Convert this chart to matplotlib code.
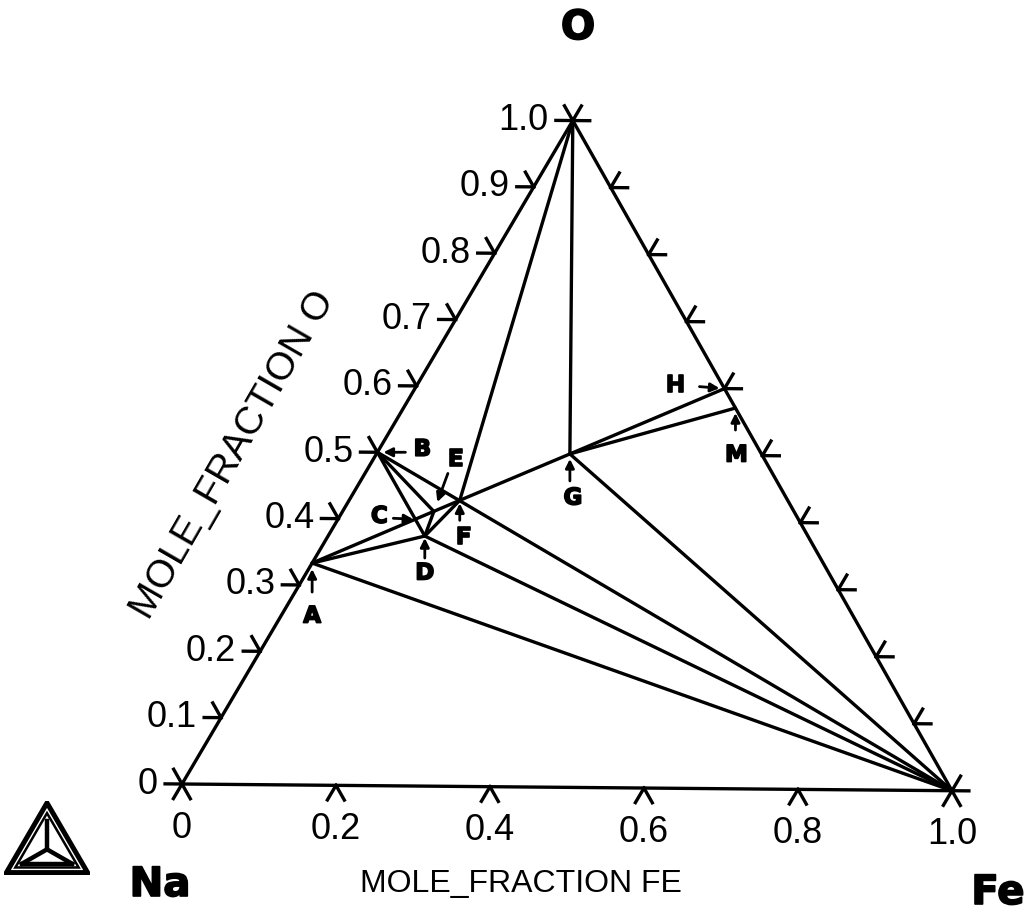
"""Na-Fe-O isothermal section redrawn as a ternary plot."""

import numpy as np
import matplotlib
matplotlib.use("Agg")  # Non-interactive backend
import matplotlib.pyplot as plt
import matplotlib.patheffects as pe
from matplotlib.patches import Polygon

# phase points: mole fraction Fe, mole fraction O
point_names = ["Na", "Fe", "O", "A", "B", "C", "D", "E", "F", "G", "H", "M"]
point_fe = [0.0, 1.0, 0.0, 0.0, 0.0, 0.100, 0.125, 0.118, 0.143, 0.25, 0.40, 0.429]
point_o = [0.0, 0.0, 1.0, 0.333, 0.5, 0.400, 0.375, 0.412, 0.429, 0.50, 0.60, 0.571]

# two-phase tie lines between the points above
tie_lines = [
    ("A", "F"), ("A", "D"), ("A", "Fe"),
    ("B", "D"), ("B", "E"), ("E", "D"), ("D", "F"),
    ("B", "Fe"), ("D", "Fe"),
    ("F", "O"), ("F", "G"), ("G", "O"),
    ("G", "H"), ("G", "M"), ("G", "Fe"),
]

side_ticks = [0.0, 0.1, 0.2, 0.3, 0.4, 0.5, 0.6, 0.7, 0.8, 0.9, 1.0]
side_labels = ["0", "0.1", "0.2", "0.3", "0.4", "0.5", "0.6", "0.7", "0.8", "0.9", "1.0"]
bottom_ticks = [0.0, 0.2, 0.4, 0.6, 0.8, 1.0]
bottom_labels = ["0", "0.2", "0.4", "0.6", "0.8", "1.0"]

# label layout for the lettered points: (arrow tail, tip gap in px, label offset) in pixels
letter_layout = {
    "A": ((0, -29), 6, (0, -53)),
    "B": ((28, 0), 6, (45, 3)),
    "C": ((-22, 1), 2, (-36, 3)),
    "D": ((0, -22), 2, (0, -37)),
    "E": ((14, 38), 10, (22, 52)),
    "F": ((0, -20), 3, (4, -37)),
    "G": ((0, -27), 5, (3, -44)),
    "H": ((-25, 2), 5, (-49, 3)),
    "M": ((0, -22), 5, (1, -47)),
}

TILT = np.deg2rad(-0.5)
LW = 2.4
TICK = 0.022
SQ3 = np.sqrt(3) / 2


def rot(x, y):
    return (x * np.cos(TILT) - y * np.sin(TILT), x * np.sin(TILT) + y * np.cos(TILT))


def cart(fe, o):
    """Ternary (x_Fe, x_O) -> plot coordinates."""
    return rot(fe + o / 2, o * SQ3)


pts = {n: cart(f, o) for n, f, o in zip(point_names, point_fe, point_o)}

W, H = 1028, 918
fig = plt.figure(figsize=(W / 100, H / 100), dpi=100)
ax = fig.add_axes([0, 0, 1, 1])
unit = 770.0
na_px, na_py = 182, 784
ax.set_xlim(-na_px / unit, (W - na_px) / unit)
ax.set_ylim(-(H - na_py) / unit, na_py / unit)
ax.axis("off")

# triangle edges
tri = [pts["Na"], pts["Fe"], pts["O"], pts["Na"]]
ax.plot([p[0] for p in tri], [p[1] for p in tri], color="black", lw=LW, solid_joinstyle="miter")

for a, b in tie_lines:
    ax.plot([pts[a][0], pts[b][0]], [pts[a][1], pts[b][1]], color="black", lw=LW,
            solid_capstyle="round")


def tick(p, dirs):
    for dx, dy in dirs:
        ddx, ddy = rot(dx, dy)
        ax.plot([p[0], p[0] + TICK * ddx], [p[1], p[1] + TICK * ddy], color="black", lw=LW)


txt = dict(family="Liberation Sans", color="black")
for v, lab in zip(side_ticks, side_labels):
    p = cart(0, v)
    tick(p, [(-1, 0), (-0.5, SQ3)])
    ax.annotate(lab, xy=p, xytext=(-24, 0), textcoords="offset pixels",
                ha="right", va="center", fontsize=26, **txt)
    tick(cart(1 - v, v), [(1, 0), (0.5, SQ3)])

for v, lab in zip(bottom_ticks, bottom_labels):
    p = cart(v, 0)
    tick(p, [(-0.5, -SQ3), (0.5, -SQ3)])
    ax.annotate(lab, xy=p, xytext=(0, -44), textcoords="offset pixels",
                ha="center", va="center", fontsize=26, **txt)

# lettered points with arrows (stroke makes the bold face look heavier)
heavy = [pe.withStroke(linewidth=1.2, foreground="black")]
bold = dict(family="DejaVu Sans", fontweight="bold", color="black", path_effects=heavy)
for name, (tail, gap, lab_off) in letter_layout.items():
    p = pts[name]
    ax.annotate("", xy=p, xytext=tail, textcoords="offset pixels",
                arrowprops=dict(arrowstyle="-|>", color="black", lw=2,
                                mutation_scale=13, shrinkA=0, shrinkB=gap * 0.72))
    ax.annotate(name, xy=p, xytext=lab_off, textcoords="offset pixels",
                ha="center", va="center", fontsize=16.5, **bold)

# axis titles and corner names
fig.text(521 / W, 1 - 884 / H, "MOLE_FRACTION FE", ha="center", va="center", fontsize=23, **txt)
fig.text(233 / W, 1 - 455 / H, "MOLE_FRACTION O", ha="center", va="center", fontsize=28,
         rotation=60, rotation_mode="anchor", **txt)
fig.text(578 / W, 1 - 28 / H, "O", ha="center", va="center", fontsize=29, **bold)
fig.text(160 / W, 1 - 885 / H, "Na", ha="center", va="center", fontsize=29, **bold)
fig.text(998 / W, 1 - 893 / H, "Fe", ha="center", va="center", fontsize=29, **bold)

# small triangle logo, bottom left
lax = fig.add_axes([4 / W, 1 - 875 / H, 86 / W, 74 / H])
lax.set_xlim(-0.03, 1.03)
lax.set_ylim(-0.03, 0.89)
lax.axis("off")
outer = np.array([[0, 0], [1, 0], [0.5, SQ3]])
centre = outer.mean(axis=0)
lax.add_patch(Polygon(outer, closed=True, fill=False, ec="black", lw=3.6, joinstyle="miter"))
inner = centre + (outer - centre) * 0.78
lax.add_patch(Polygon(inner, closed=True, fill=False, ec="black", lw=1.8, joinstyle="miter"))
core = centre + (outer - centre) * 0.62
for q in core:
    lax.plot([centre[0], q[0]], [centre[1], q[1]], color="black", lw=3.2)
lax.plot(core[:2, 0], core[:2, 1], color="black", lw=3.2)

fig.savefig("out.png", dpi=100)
